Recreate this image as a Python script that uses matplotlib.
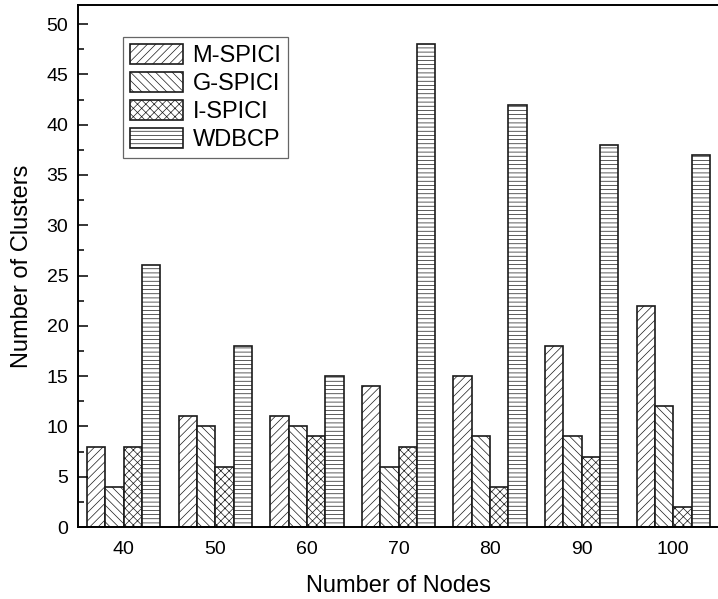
import numpy as np
import matplotlib
matplotlib.use("Agg")
import matplotlib.pyplot as plt
from matplotlib.ticker import MultipleLocator

plt.rcParams["font.family"] = ["Liberation Sans", "DejaVu Sans"]
plt.rcParams["hatch.linewidth"] = 0.5

nodes = ["40", "50", "60", "70", "80", "90", "100"]
series = ["M-SPICI", "G-SPICI", "I-SPICI", "WDBCP"]
m_spici = [8, 11, 11, 14, 15, 18, 22]
g_spici = [4, 10, 10, 6, 9, 9, 12]
i_spici = [8, 6, 9, 8, 4, 7, 2]
wdbcp = [26, 18, 15, 48, 42, 38, 37]

values = [m_spici, g_spici, i_spici, wdbcp]
hatches = ["////", "\\\\\\\\", "xxxx", "----"]

fig = plt.figure(figsize=(7.18, 5.99), dpi=100)
ax = fig.add_axes([78 / 718, 72 / 599, 641 / 718, 522 / 599])

x = np.arange(len(nodes))
width = 0.2
for i, (name, vals) in enumerate(zip(series, values)):
    ax.bar(
        x + (i - 1.5) * width,
        vals,
        width,
        facecolor="white",
        edgecolor="0.1",
        linewidth=1.2,
        hatch=hatches[i],
        label=name,
    )

ax.set_xlim(-0.5, 6.5)
ax.set_ylim(0, 51.9)
ax.set_xticks(x)
ax.set_xticklabels(nodes)
ax.yaxis.set_major_locator(MultipleLocator(5))
ax.yaxis.set_minor_locator(MultipleLocator(2.5))

ax.tick_params(axis="x", length=0, pad=10, labelsize=14)
ax.tick_params(axis="y", which="major", direction="in", length=7, width=1.1,
               pad=7, labelsize=14)
ax.tick_params(axis="y", which="minor", direction="in", length=4, width=1.1)

for s in ax.spines.values():
    s.set_linewidth(1.4)

ax.set_xlabel("Number of Nodes", fontsize=17, labelpad=12)
ax.set_ylabel("Number of Clusters", fontsize=17, labelpad=10)

leg = ax.legend(
    loc="upper left",
    bbox_to_anchor=(0.07, 0.939),
    fontsize=17,
    handlelength=2.25,
    handleheight=0.9,
    labelspacing=0.22,
    handletextpad=0.4,
    borderpad=0.3,
    borderaxespad=0,
    fancybox=False,
    edgecolor="0.4",
    framealpha=1,
)
leg.get_frame().set_linewidth(0.9)

plt.savefig("out.png", dpi=100)
